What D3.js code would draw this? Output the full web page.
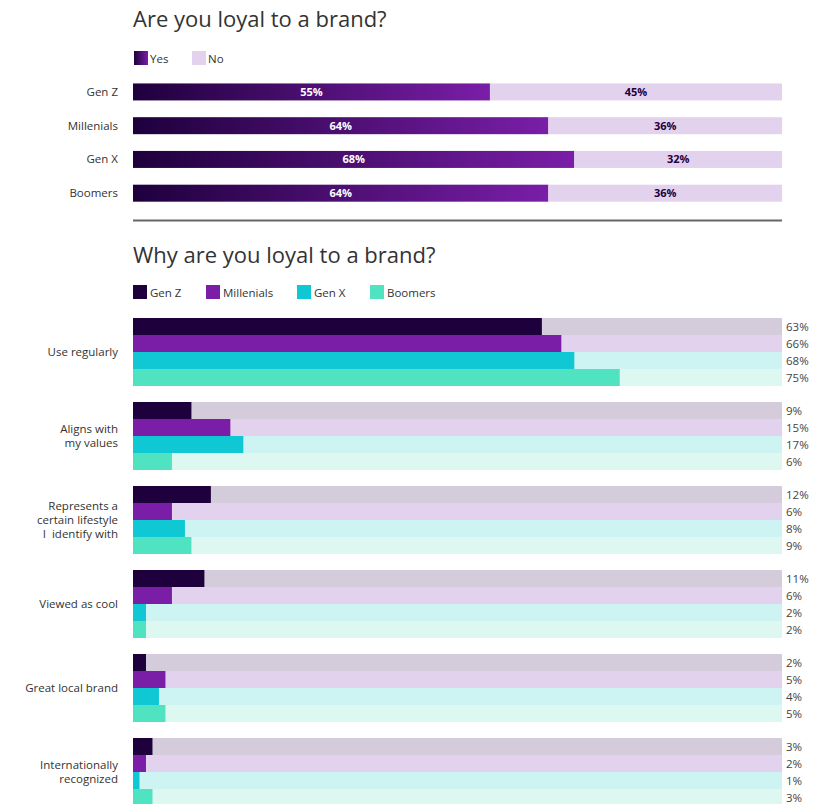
<!DOCTYPE html>
<html>
<head>
<meta charset="utf-8">
<script src="https://cdn.jsdelivr.net/npm/d3@7"></script>
<style>
  html, body { margin: 0; padding: 0; background: #fff; }
  svg { display: block; font-family: "Open Sans", "Noto Sans", sans-serif; }
  text { white-space: pre; }
</style>
</head>
<body>
<svg id="chart" width="821" height="804"></svg>
<script>
// Loyalty by generation (share answering yes)
const generations = ["Gen Z", "Millenials", "Gen X", "Boomers"];
const loyalYes = [55, 64, 68, 64];
const loyalNo = [45, 36, 32, 36];

// Reasons for loyalty, per generation
const reasons = [
  ["Use regularly"],
  ["Aligns with", "my values"],
  ["Represents a", "certain lifestyle", "I  identify with"],
  ["Viewed as cool"],
  ["Great local brand"],
  ["Internationally", "recognized"]
];
const genZ = [63, 9, 12, 11, 2, 3];
const millenials = [66, 15, 6, 6, 5, 2];
const genX = [68, 17, 8, 2, 4, 1];
const boomers = [75, 6, 9, 2, 5, 3];

const seriesColors = ["#1e003c", "#7a1ea8", "#0fc8d4", "#50e3c2"];
const trackColors = ["#d4cbdb", "#e3d2ee", "#cdf3f3", "#dcf8f1"];

const labelSize = 11.5;
const svg = d3.select("#chart");
const x = d3.scaleLinear().domain([0, 100]).range([133, 782]);

const defs = svg.append("defs");
function yesGradient(id, x0, x1) {
  const g = defs.append("linearGradient")
    .attr("id", id)
    .attr("gradientUnits", "userSpaceOnUse")
    .attr("x1", x0).attr("x2", x1).attr("y1", 0).attr("y2", 0);
  g.append("stop").attr("offset", "0%").attr("stop-color", "#1e003c");
  g.append("stop").attr("offset", "100%").attr("stop-color", "#7a1ea8");
  return `url(#${id})`;
}

// ---------- Part 1 ----------
svg.append("text")
  .attr("x", 133).attr("y", 27)
  .attr("font-size", 22).attr("fill", "#333")
  .text("Are you loyal to a brand?");

const legend1 = svg.append("g").attr("font-size", labelSize).attr("fill", "#333");
legend1.append("rect").attr("x", 134).attr("y", 51).attr("width", 14).attr("height", 14)
  .attr("fill", yesGradient("legYes", 134, 148));
legend1.append("text").attr("x", 150).attr("y", 62.5).text("Yes");
legend1.append("rect").attr("x", 192).attr("y", 51).attr("width", 14).attr("height", 14)
  .attr("fill", "#e3d2ee");
legend1.append("text").attr("x", 208).attr("y", 62.5).text("No");

const y1 = d3.scaleBand().domain(generations).range([75, 210]).paddingInner(0.5).paddingOuter(0.25);
const loyalRows = generations.map((g, i) => ({ g, yes: loyalYes[i], no: loyalNo[i] }));

const rows1 = svg.append("g").selectAll("g").data(loyalRows).join("g")
  .attr("transform", d => `translate(0,${y1(d.g)})`);
const bh1 = 17;
rows1.append("rect")
  .attr("x", x(0)).attr("y", 0)
  .attr("width", d => x(d.yes) - x(0)).attr("height", bh1)
  .attr("fill", (d, i) => yesGradient("yes" + i, x(0), x(d.yes)));
rows1.append("rect")
  .attr("x", d => x(d.yes)).attr("y", 0)
  .attr("width", d => x(d.yes + d.no) - x(d.yes)).attr("height", bh1)
  .attr("fill", "#e3d2ee");
rows1.append("text")
  .attr("x", d => (x(0) + x(d.yes)) / 2).attr("y", bh1 / 2 + 4)
  .attr("text-anchor", "middle").attr("font-size", 11).attr("font-weight", 700)
  .attr("fill", "#fff").text(d => d.yes + "%");
rows1.append("text")
  .attr("x", d => (x(d.yes) + x(d.yes + d.no)) / 2).attr("y", bh1 / 2 + 4)
  .attr("text-anchor", "middle").attr("font-size", 11).attr("font-weight", 700)
  .attr("fill", "#1e003c").text(d => d.no + "%");
rows1.append("text")
  .attr("x", 118).attr("y", bh1 / 2 + 4)
  .attr("text-anchor", "end").attr("font-size", labelSize).attr("fill", "#333")
  .text(d => d.g);

svg.append("line")
  .attr("x1", 133).attr("x2", 782).attr("y1", 220.5).attr("y2", 220.5)
  .attr("stroke", "#666").attr("stroke-width", 2);

// ---------- Part 2 ----------
svg.append("text")
  .attr("x", 133).attr("y", 263)
  .attr("font-size", 22).attr("fill", "#333")
  .text("Why are you loyal to a brand?");

const legendX = [133, 206, 297, 370];
const legend2 = svg.append("g").attr("font-size", labelSize).attr("fill", "#333")
  .selectAll("g").data(generations).join("g")
  .attr("transform", (d, i) => `translate(${legendX[i]},285)`);
legend2.append("rect").attr("width", 14).attr("height", 14)
  .attr("fill", (d, i) => seriesColors[i]);
legend2.append("text").attr("x", 17).attr("y", 11.5).text(d => d);

const allSeries = [genZ, millenials, genX, boomers];
const groupStep = 84;
const inner = d3.scaleBand().domain(d3.range(4)).range([0, 68]);

const groups = svg.append("g").selectAll("g").data(reasons).join("g")
  .attr("transform", (d, i) => `translate(0,${318 + i * groupStep})`);

groups.each(function (lines, gi) {
  const g = d3.select(this);
  const bars = allSeries.map((s, si) => ({ si, v: s[gi] }));
  g.selectAll("rect.track").data(bars).join("rect").attr("class", "track")
    .attr("x", x(0)).attr("y", d => inner(d.si))
    .attr("width", x(100) - x(0)).attr("height", inner.bandwidth())
    .attr("fill", d => trackColors[d.si]);
  g.selectAll("rect.val").data(bars).join("rect").attr("class", "val")
    .attr("x", x(0)).attr("y", d => inner(d.si))
    .attr("width", d => x(d.v) - x(0)).attr("height", inner.bandwidth())
    .attr("fill", d => seriesColors[d.si]);
  g.selectAll("text.pct").data(bars).join("text").attr("class", "pct")
    .attr("x", 786).attr("y", d => inner(d.si) + inner.bandwidth() / 2 + 4)
    .attr("font-size", labelSize).attr("fill", "#444")
    .text(d => d.v + "%");
  const lh = 14;
  const cy = 34 - (lines.length - 1) * lh / 2;
  g.append("text")
    .attr("text-anchor", "end").attr("font-size", labelSize).attr("fill", "#333")
    .selectAll("tspan").data(lines).join("tspan")
    .attr("x", 118).attr("y", (d, i) => cy + i * lh + 4)
    .text(d => d);
});
</script>
</body>
</html>
